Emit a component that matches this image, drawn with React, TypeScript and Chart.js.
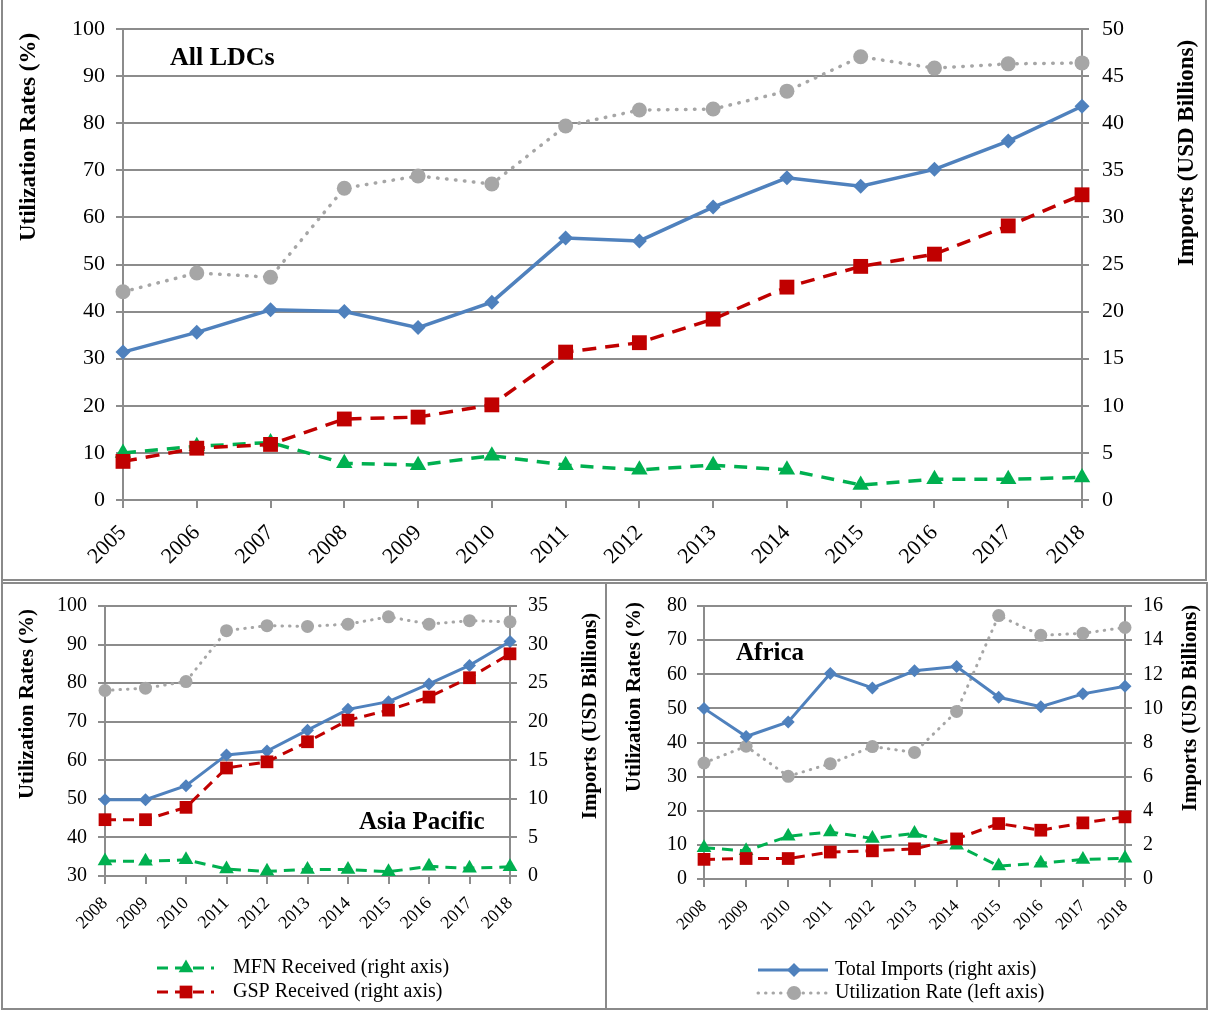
import React, { useEffect, useRef } from "react";
import { Chart, registerables } from "chart.js";

Chart.register(...registerables);

// ---------------- data ----------------
const YEARS_ALL = ["2005", "2006", "2007", "2008", "2009", "2010", "2011", "2012", "2013", "2014", "2015", "2016", "2017", "2018"];
const ALL_UTIL = [44.2, 48.2, 47.3, 66.2, 68.8, 67.1, 79.4, 82.8, 83.0, 86.8, 94.1, 91.7, 92.6, 92.8];
const ALL_TOTAL = [15.7, 17.8, 20.2, 20.0, 18.3, 21.0, 27.8, 27.5, 31.1, 34.2, 33.3, 35.1, 38.1, 41.8];
const ALL_GSP = [4.1, 5.5, 5.9, 8.6, 8.8, 10.1, 15.7, 16.7, 19.2, 22.6, 24.8, 26.1, 29.1, 32.4];
const ALL_MFN = [5.0, 5.7, 6.1, 3.9, 3.7, 4.7, 3.7, 3.2, 3.7, 3.2, 1.6, 2.2, 2.2, 2.4];

const YEARS_REGION = ["2008", "2009", "2010", "2011", "2012", "2013", "2014", "2015", "2016", "2017", "2018"];
const AP_UTIL = [78.1, 78.7, 80.4, 93.6, 94.9, 94.7, 95.3, 97.2, 95.3, 96.2, 95.9];
const AP_TOTAL = [9.9, 9.9, 11.7, 15.7, 16.2, 18.9, 21.6, 22.6, 24.9, 27.3, 30.4];
const AP_GSP = [7.3, 7.3, 8.9, 14.0, 14.8, 17.4, 20.2, 21.5, 23.2, 25.7, 28.8];
const AP_MFN = [1.95, 1.9, 2.1, 0.9, 0.6, 0.85, 0.85, 0.55, 1.25, 1.0, 1.2];

const AF_UTIL = [34.0, 38.9, 30.1, 33.8, 38.8, 37.1, 49.1, 77.2, 71.4, 72.0, 73.7];
const AF_TOTAL = [10.0, 8.35, 9.2, 12.05, 11.2, 12.2, 12.45, 10.65, 10.1, 10.85, 11.3];
const AF_GSP = [1.15, 1.2, 1.2, 1.58, 1.65, 1.77, 2.35, 3.25, 2.86, 3.29, 3.64];
const AF_MFN = [1.83, 1.65, 2.5, 2.76, 2.38, 2.67, 1.98, 0.76, 0.92, 1.15, 1.21];

const SERIES_LABELS = ["MFN Received (right axis)", "GSP Received (right axis)", "Total Imports (right axis)", "Utilization Rate (left axis)"];
const LEFT_TITLE = "Utilization Rates (%)";
const RIGHT_TITLE = "Imports (USD Billions)";

// ---------------- styles ----------------
const FONT = "'Liberation Serif', 'Times New Roman', serif";
const GRID = "#8c8c8c";
const BLUE = "#4F81BD";
const RED = "#C00000";
const GREEN = "#00B050";
const GRAY = "#A6A6A6";

type TextItem = { text: string; x: number; y: number; font: string; rot?: number; align?: CanvasTextAlign };
type LegendItem = { ds: number; x0: number; x1: number; xm: number; tx: number; y: number; font: string; r: number };

function drawMarker(ctx: CanvasRenderingContext2D, style: string, x: number, y: number, r: number, color: string) {
  ctx.beginPath();
  if (style === "circle") {
    ctx.arc(x, y, r, 0, Math.PI * 2);
  } else if (style === "rect") {
    const s = r * Math.SQRT1_2;
    ctx.rect(x - s, y - s, 2 * s, 2 * s);
  } else if (style === "rectRot") {
    ctx.moveTo(x, y - r);
    ctx.lineTo(x + r, y);
    ctx.lineTo(x, y + r);
    ctx.lineTo(x - r, y);
    ctx.closePath();
  } else if (style === "triangle") {
    let a = 0;
    ctx.moveTo(x + Math.sin(a) * r, y - Math.cos(a) * r);
    a += (2 * Math.PI) / 3;
    ctx.lineTo(x + Math.sin(a) * r, y - Math.cos(a) * r);
    a += (2 * Math.PI) / 3;
    ctx.lineTo(x + Math.sin(a) * r, y - Math.cos(a) * r);
    ctx.closePath();
  }
  ctx.fillStyle = color;
  ctx.fill();
}

function makeOverlay(texts: TextItem[], legend: LegendItem[]) {
  return {
    id: "overlay",
    afterDraw(chart: any) {
      const ctx: CanvasRenderingContext2D = chart.ctx;
      ctx.save();
      for (const t of texts) {
        ctx.save();
        ctx.translate(t.x, t.y);
        if (t.rot) ctx.rotate(t.rot);
        ctx.font = t.font;
        ctx.fillStyle = "#000";
        ctx.textAlign = t.align || "center";
        ctx.textBaseline = "middle";
        ctx.fillText(t.text, 0, 0);
        ctx.restore();
      }
      for (const it of legend) {
        const ds = chart.data.datasets[it.ds];
        ctx.save();
        ctx.strokeStyle = ds.borderColor;
        ctx.lineWidth = ds.borderWidth;
        ctx.lineCap = ds.borderCapStyle || "butt";
        ctx.setLineDash(ds.borderDash || []);
        ctx.beginPath();
        ctx.moveTo(it.x0, it.y);
        ctx.lineTo(it.x1, it.y);
        ctx.stroke();
        ctx.setLineDash([]);
        drawMarker(ctx, ds.pointStyle, it.xm, it.y, it.r, ds.pointBackgroundColor);
        ctx.font = it.font;
        ctx.fillStyle = "#000";
        ctx.textAlign = "left";
        ctx.textBaseline = "middle";
        ctx.fillText(ds.label, it.tx, it.y);
        ctx.restore();
      }
      ctx.restore();
    },
  };
}

type PanelSpec = {
  left: number;
  top: number;
  width: number;
  height: number;
  labels: string[];
  util: number[];
  total: number[];
  gsp: number[];
  mfn: number[];
  yMin: number;
  yMax: number;
  yStep: number;
  y1Max: number;
  y1Step: number;
  plotLeft: number;
  plotRight: number;
  plotTop: number;
  plotBottom: number;
  tickFont: number;
  xFont: number;
  xPad: number;
  yPad: number;
  y1Pad: number;
  big: boolean;
  texts: TextItem[];
  legend: LegendItem[];
};

function buildConfig(p: PanelSpec): any {
  const lw = p.big ? 3.5 : 3;
  const rDia = p.big ? 7.5 : 6.5;
  const rCirc = p.big ? 7.5 : 6.5;
  const rSq = p.big ? 10.5 : 9;
  const rTri = p.big ? 9.5 : 8.5;
  const xH = p.height - p.plotBottom;
  const yW = p.plotLeft;
  const y1W = p.width - p.plotRight;
  return {
    type: "line",
    data: {
      labels: p.labels,
      datasets: [
        {
          label: SERIES_LABELS[0],
          data: p.mfn,
          yAxisID: "y1",
          borderColor: GREEN,
          backgroundColor: GREEN,
          borderWidth: lw,
          borderDash: p.big ? [13, 9] : [11, 7],
          pointStyle: "triangle",
          pointRadius: rTri,
          pointBackgroundColor: GREEN,
          pointBorderColor: GREEN,
          pointBorderWidth: 0,
          tension: 0,
          clip: false,
          order: 1,
        },
        {
          label: SERIES_LABELS[1],
          data: p.gsp,
          yAxisID: "y1",
          borderColor: RED,
          backgroundColor: RED,
          borderWidth: lw,
          borderDash: p.big ? [14, 9] : [11, 7],
          pointStyle: "rect",
          pointRadius: rSq,
          pointBackgroundColor: RED,
          pointBorderColor: RED,
          pointBorderWidth: 0,
          tension: 0,
          clip: false,
          order: 0,
        },
        {
          label: SERIES_LABELS[2],
          data: p.total,
          yAxisID: "y1",
          borderColor: BLUE,
          backgroundColor: BLUE,
          borderWidth: lw,
          pointStyle: "rectRot",
          pointRadius: rDia,
          pointBackgroundColor: BLUE,
          pointBorderColor: BLUE,
          pointBorderWidth: 0,
          tension: 0,
          clip: false,
          order: 2,
        },
        {
          label: SERIES_LABELS[3],
          data: p.util,
          yAxisID: "y",
          borderColor: GRAY,
          backgroundColor: GRAY,
          borderWidth: p.big ? 3.5 : 3,
          borderDash: p.big ? [0.5, 8.5] : [0.5, 7],
          borderCapStyle: "round",
          pointStyle: "circle",
          pointRadius: rCirc,
          pointBackgroundColor: GRAY,
          pointBorderColor: GRAY,
          pointBorderWidth: 0,
          tension: 0,
          clip: false,
          order: 3,
        },
      ],
    },
    options: {
      responsive: false,
      maintainAspectRatio: false,
      animation: false,
      devicePixelRatio: 1,
      layout: { padding: { top: p.plotTop, left: 0, right: 0, bottom: 0 } },
      plugins: {
        legend: { display: false },
        tooltip: { enabled: false },
        title: { display: false },
      },
      scales: {
        x: {
          type: "category",
          offset: false,
          grid: { display: true, drawOnChartArea: false, drawTicks: true, tickLength: 8, color: GRID, lineWidth: 2 },
          border: { display: true, color: GRID, width: 2 },
          ticks: {
            font: { family: FONT, size: p.xFont },
            color: "#000",
            maxRotation: 45,
            minRotation: 45,
            autoSkip: false,
            padding: p.xPad,
          },
          afterFit: (s: any) => {
            s.height = xH;
          },
        },
        y: {
          type: "linear",
          position: "left",
          min: p.yMin,
          max: p.yMax,
          ticks: { stepSize: p.yStep, font: { family: FONT, size: p.tickFont }, color: "#000", padding: p.yPad },
          grid: { color: GRID, lineWidth: 2, tickLength: 7, drawTicks: true },
          border: { display: true, color: GRID, width: 2 },
          afterFit: (s: any) => {
            s.width = yW;
          },
        },
        y1: {
          type: "linear",
          position: "right",
          min: 0,
          max: p.y1Max,
          ticks: { stepSize: p.y1Step, font: { family: FONT, size: p.tickFont }, color: "#000", padding: p.y1Pad },
          grid: { drawOnChartArea: false, color: GRID, lineWidth: 2, tickLength: 7, drawTicks: true },
          border: { display: true, color: GRID, width: 2 },
          afterFit: (s: any) => {
            s.width = y1W;
          },
        },
      },
    },
    plugins: [makeOverlay(p.texts, p.legend)],
  };
}

function Panel({ spec }: { spec: PanelSpec }) {
  const ref = useRef<HTMLCanvasElement | null>(null);
  useEffect(() => {
    if (!ref.current) return;
    const chart = new Chart(ref.current, buildConfig(spec));
    return () => chart.destroy();
  }, [spec]);
  return (
    <div style={{ position: "absolute", left: spec.left, top: spec.top, width: spec.width, height: spec.height }}>
      <canvas ref={ref} width={spec.width} height={spec.height} style={{ display: "block" }} />
    </div>
  );
}

const bold = (n: number) => `bold ${n}px ${FONT}`;
const reg = (n: number) => `${n}px ${FONT}`;
const UP = -Math.PI / 2;

const TOP_SPEC: PanelSpec = {
  left: 0,
  top: 0,
  width: 1212,
  height: 580,
  labels: YEARS_ALL,
  util: ALL_UTIL,
  total: ALL_TOTAL,
  gsp: ALL_GSP,
  mfn: ALL_MFN,
  yMin: 0,
  yMax: 100,
  yStep: 10,
  y1Max: 50,
  y1Step: 5,
  plotLeft: 123,
  plotRight: 1082,
  plotTop: 29,
  plotBottom: 500,
  tickFont: 22,
  xFont: 22,
  xPad: 12,
  yPad: 11,
  y1Pad: 13,
  big: true,
  texts: [
    { text: LEFT_TITLE, x: 29, y: 137, rot: UP, font: bold(23) },
    { text: RIGHT_TITLE, x: 1187, y: 153, rot: UP, font: bold(23) },
    { text: "All LDCs", x: 170, y: 58, align: "left", font: bold(26) },
  ],
  legend: [],
};

const AP_SPEC: PanelSpec = {
  left: 0,
  top: 583,
  width: 606,
  height: 427,
  labels: YEARS_REGION,
  util: AP_UTIL,
  total: AP_TOTAL,
  gsp: AP_GSP,
  mfn: AP_MFN,
  yMin: 30,
  yMax: 100,
  yStep: 10,
  y1Max: 35,
  y1Step: 5,
  plotLeft: 105,
  plotRight: 510,
  plotTop: 22,
  plotBottom: 293,
  tickFont: 20,
  xFont: 18,
  xPad: 9,
  yPad: 11,
  y1Pad: 11,
  big: false,
  texts: [
    { text: LEFT_TITLE, x: 28, y: 121, rot: UP, font: bold(21) },
    { text: RIGHT_TITLE, x: 591, y: 133, rot: UP, font: bold(21) },
    { text: "Asia Pacific", x: 359, y: 240, align: "left", font: bold(25) },
  ],
  legend: [
    { ds: 0, x0: 157, x1: 214, xm: 186, tx: 233, y: 385, font: reg(20), r: 8.5 },
    { ds: 1, x0: 157, x1: 214, xm: 186, tx: 233, y: 409, font: reg(20), r: 9 },
  ],
};

const AF_SPEC: PanelSpec = {
  left: 606,
  top: 583,
  width: 606,
  height: 427,
  labels: YEARS_REGION,
  util: AF_UTIL,
  total: AF_TOTAL,
  gsp: AF_GSP,
  mfn: AF_MFN,
  yMin: 0,
  yMax: 80,
  yStep: 10,
  y1Max: 16,
  y1Step: 2,
  plotLeft: 98,
  plotRight: 519,
  plotTop: 22,
  plotBottom: 296,
  tickFont: 20,
  xFont: 17,
  xPad: 9,
  yPad: 10,
  y1Pad: 11,
  big: false,
  texts: [
    { text: LEFT_TITLE, x: 29, y: 114, rot: UP, font: bold(21) },
    { text: RIGHT_TITLE, x: 585, y: 125, rot: UP, font: bold(21) },
    { text: "Africa", x: 130, y: 71, align: "left", font: bold(25) },
  ],
  legend: [
    { ds: 2, x0: 152, x1: 222, xm: 188, tx: 229, y: 387, font: reg(20), r: 7 },
    { ds: 3, x0: 152, x1: 222, xm: 188, tx: 229, y: 410, font: reg(20), r: 7 },
  ],
};

const lineStyle = (l: number, t: number, w: number, h: number): React.CSSProperties => ({
  position: "absolute",
  left: l,
  top: t,
  width: w,
  height: h,
  background: "#8a8a8a",
});

export default function App() {
  return (
    <div style={{ position: "absolute", left: 0, top: 0, width: 1212, height: 1011, background: "#fff", overflow: "hidden" }}>
      <Panel spec={TOP_SPEC} />
      <Panel spec={AP_SPEC} />
      <Panel spec={AF_SPEC} />
      {/* panel frames */}
      <div style={lineStyle(1, 0, 2, 1010)} />
      <div style={lineStyle(1205, 0, 2, 581)} />
      <div style={lineStyle(1, 579, 1206, 2)} />
      <div style={lineStyle(1, 582, 1207, 2)} />
      <div style={lineStyle(605, 582, 2, 428)} />
      <div style={lineStyle(1206, 582, 2, 428)} />
      <div style={lineStyle(1, 1008, 1207, 2)} />
    </div>
  );
}
